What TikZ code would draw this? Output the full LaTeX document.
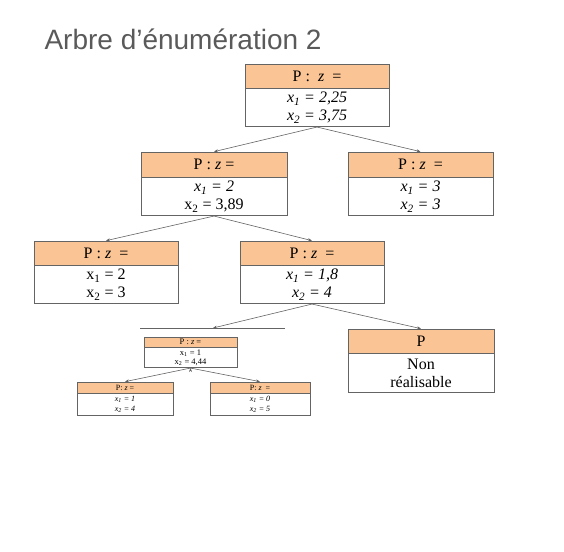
\documentclass[tikz,border=0pt]{standalone}
\usepackage{fontspec}
\setmainfont{Liberation Serif}
\newfontfamily\titlefont{Liberation Sans}
\usepackage{tikz}
\usetikzlibrary{arrows.meta,positioning}
\definecolor{boxorange}{RGB}{250,196,148}
\definecolor{titlegray}{RGB}{90,90,90}
\definecolor{linegray}{RGB}{100,100,100}
\tikzset{
	head/.style={draw=linegray, fill=boxorange, inner sep=0pt, line width=0.7pt},
	body/.style={draw=linegray, fill=white, inner sep=0pt, line width=0.7pt, align=center},
	big/.style={font=\fontsize{16}{18}\selectfont},
	small/.style={font=\fontsize{8.5}{9.5}\selectfont},
	tiny/.style={font=\fontsize{8}{10}\selectfont},
	branch/.style={draw=linegray, line width=0.6pt, -{Stealth[length=4pt,width=3pt]}}
}

\begin{document}
\begin{tikzpicture}[x=1pt,y=-1pt]
	\useasboundingbox (0,0) rectangle (564,551);
	\node[anchor=base west, text=titlegray, font=\titlefont\fontsize{28}{32}\selectfont] (titre) at (41,49) {Arbre d’énumération 2};
	% racine
	\node[head, big, minimum width=144pt, minimum height=24pt] (r) at (317,76) {P : \ \textit{z} \ =};
	\node[body, big, minimum width=144pt, minimum height=38pt, below=0pt of r] (rb) {\textit{x\textsubscript{1} = 2,25}\\\textit{x\textsubscript{2} = 3,75}};
	% niveau 2
	\node[head, big, minimum width=146pt, minimum height=25pt] (a) at (214,164.5) {P : \textit{z} =};
	\node[body, big, minimum width=146pt, minimum height=38pt, below=0pt of a] (ab) {\textit{x\textsubscript{1} = 2}\\x\textsubscript{2} = 3,89};
	\node[head, big, minimum width=145pt, minimum height=25pt] (b) at (420.5,164.5) {P : \textit{z} \ =};
	\node[body, big, minimum width=145pt, minimum height=38pt, below=0pt of b] (bb) {\textit{x\textsubscript{1} = 3}\\\textit{x\textsubscript{2} = 3}};
	% niveau 3
	\node[head, big, minimum width=144pt, minimum height=24pt] (c) at (106,253) {P : \textit{z} \ =};
	\node[body, big, minimum width=144pt, minimum height=38pt, below=0pt of c] (cb) {x\textsubscript{1} = 2\\x\textsubscript{2} = 3};
	\node[head, big, minimum width=144pt, minimum height=24pt] (d) at (312,253) {P : \textit{z} \ =};
	\node[body, big, minimum width=144pt, minimum height=38pt, below=0pt of d] (db) {\textit{x\textsubscript{1} = 1,8}\\\textit{x\textsubscript{2} = 4}};
	% niveau 4
	\coordinate (cutL) at (140,328);
	\coordinate (cutR) at (285,328);
	\coordinate (cut) at (213,328);
	\draw[linegray, line width=0.7pt] (cutL) -- (cutR);
	\node[head, big, minimum width=146pt, minimum height=24pt] (e) at (421,341) {P};
	\node[body, big, minimum width=146pt, minimum height=39pt, below=0pt of e] (eb) {Non\\réalisable};
	\node[head, small, minimum width=93pt, minimum height=10pt] (f) at (190.5,342) {P : \textit{z} =};
	\node[body, small, minimum width=93pt, minimum height=20pt, below=0pt of f] (fb) {x\textsubscript{1} = 1\\x\textsubscript{2} = 4,44};
	% niveau 5
	\node[head, tiny, minimum width=96pt, minimum height=11pt] (g) at (125,387.5) {P: \textit{z} =};
	\node[body, tiny, minimum width=96pt, minimum height=22pt, below=0pt of g] (gb) {\textit{x\textsubscript{1} = 1}\\\textit{x\textsubscript{2} = 4}};
	\node[head, tiny, minimum width=100pt, minimum height=11pt] (h) at (260,387.5) {P: \textit{z} \ =};
	\node[body, tiny, minimum width=100pt, minimum height=22pt, below=0pt of h] (hb) {\textit{x\textsubscript{1} = 0}\\\textit{x\textsubscript{2} = 5}};
	\path[branch]
	(rb.south) edge (a.north)
	edge (b.north)
	(ab.south) edge (c.north)
	edge (d.north)
	(db.south) edge (cut)
	edge (e.north)
	(fb.south) edge (g.north)
	edge (h.north)
	;
\end{tikzpicture}
\end{document}
